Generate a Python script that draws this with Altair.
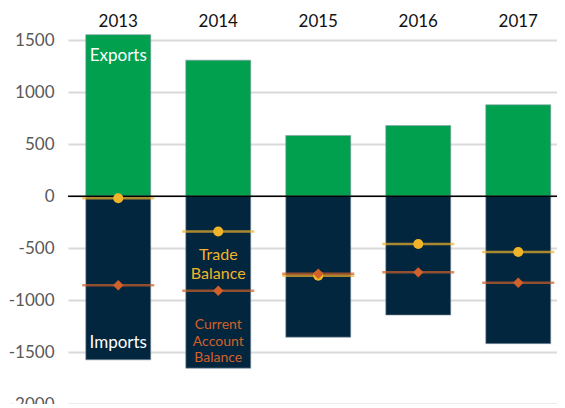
import altair as alt
import pandas as pd

years = ["2013", "2014", "2015", "2016", "2017"]
exports = [1555, 1310, 585, 680, 880]
imports = [-1575, -1655, -1357, -1144, -1419]
trade_balance = [-20, -340, -765, -460, -537]
current_account = [-856, -911, -747, -733, -833]

label_text = ["Exports", "Imports", "Trade\nBalance", "Current\nAccount\nBalance"]
label_year = ["2013", "2013", "2014", "2014"]
label_value = [1345, -1410, -565, -1240]
label_group = ["white", "white", "tb", "ca"]

bars = pd.DataFrame({
    "year": years * 2,
    "value": exports + imports,
    "kind": ["Exports"] * 5 + ["Imports"] * 5,
})
bal = pd.DataFrame({"year": years, "tb": trade_balance, "ca": current_account})
labels = pd.DataFrame({"text": label_text, "year": label_year, "value": label_value, "group": label_group})

GREEN = "#00A04F"
NAVY = "#03263F"
YELLOW = "#F0B429"
ORANGE = "#D0612A"
FONT = "Lato"

xscale = alt.Scale(paddingInner=0.35, paddingOuter=0.12, align=0.74)
yscale = alt.Scale(domain=[-2000, 1600], nice=False)
xenc = alt.X("year:N", scale=xscale, sort=years,
             axis=alt.Axis(orient="top", title=None, ticks=False, domain=False,
                           labelAngle=0, labelPadding=9, labelBaseline="middle",
                           labelFontSize=17, labelColor="#111111", labelFont=FONT))
yaxis = alt.Axis(title=None, ticks=False, domain=False, values=[-2000, -1500, -1000, -500, 0, 500, 1000, 1500],
                 labelExpr="datum.value + ''",
                 labelFontSize=17, labelColor="#595959", labelPadding=14, labelFont=FONT,
                 grid=True, gridColor="#D9D9D9", gridWidth=2)

bar = alt.Chart(bars).mark_bar(stroke="#8a9aa8", strokeWidth=0.6).encode(
    x=xenc,
    y=alt.Y("value:Q", scale=yscale, axis=yaxis),
    color=alt.Color("kind:N", scale=alt.Scale(domain=["Exports", "Imports"], range=[GREEN, NAVY]), legend=None),
)

zero = alt.Chart(pd.DataFrame({"z": [0]})).mark_rule(color="black", strokeWidth=1.6).encode(
    y=alt.Y("z:Q", scale=yscale)
)

tb_line = alt.Chart(bal).mark_tick(color=YELLOW, size=72, thickness=2.5).encode(
    x=alt.X("year:N", sort=years), y=alt.Y("tb:Q", scale=yscale))
tb_pt = alt.Chart(bal).mark_point(filled=True, shape="circle", size=100, color=YELLOW, opacity=1).encode(
    x=alt.X("year:N", sort=years), y=alt.Y("tb:Q", scale=yscale))
ca_line = alt.Chart(bal).mark_tick(color=ORANGE, size=72, thickness=2.5).encode(
    x=alt.X("year:N", sort=years), y=alt.Y("ca:Q", scale=yscale))
ca_pt = alt.Chart(bal).mark_point(filled=True, shape="diamond", size=110, color=ORANGE, opacity=1).encode(
    x=alt.X("year:N", sort=years), y=alt.Y("ca:Q", scale=yscale))

def txt(group, color, size, lh):
    return alt.Chart(labels).transform_filter(alt.datum.group == group).mark_text(
        color=color, fontSize=size, font=FONT, baseline="middle", align="center",
        lineBreak="\n", lineHeight=lh
    ).encode(x=alt.X("year:N", sort=years), y=alt.Y("value:Q", scale=yscale), text="text:N")

chart = alt.layer(
    bar, zero, tb_line, ca_line, tb_pt, ca_pt,
    txt("white", "white", 17, 18), txt("tb", YELLOW, 16, 19), txt("ca", ORANGE, 14, 16.5),
).properties(
    width=489, height=374,
    autosize=alt.AutoSizeParams(type="none"),
    padding={"left": 60, "top": 22, "right": 0, "bottom": 0},
).configure_view(stroke=None)

chart.save("out.html", embed_options={"renderer": "svg", "actions": False})
